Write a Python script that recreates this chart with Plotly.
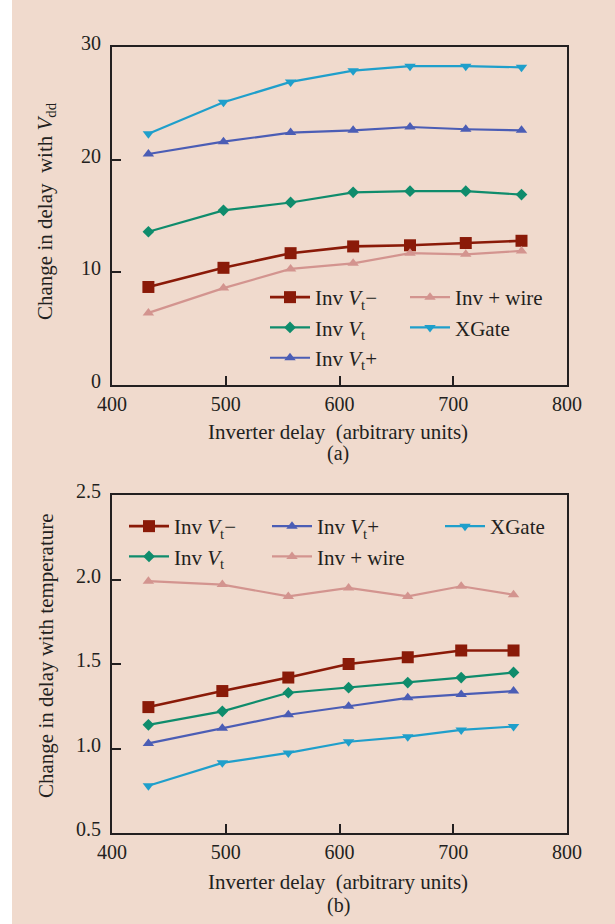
import plotly.graph_objects as go

# ---- data: panel (a) change in delay with Vdd ----
x_a = [432, 498, 557, 612, 662, 711, 760]
a_vt_minus = [8.7, 10.4, 11.7, 12.3, 12.4, 12.6, 12.8]
a_vt = [13.6, 15.5, 16.2, 17.1, 17.2, 17.2, 16.9]
a_vt_plus = [20.5, 21.6, 22.4, 22.6, 22.9, 22.7, 22.6]
a_wire = [6.4, 8.6, 10.3, 10.8, 11.7, 11.6, 11.9]
a_xgate = [22.3, 25.1, 26.9, 27.9, 28.3, 28.3, 28.2]

# ---- data: panel (b) change in delay with temperature ----
x_b = [432, 497, 555, 608, 660, 707, 753]
b_vt_minus = [1.245, 1.34, 1.42, 1.50, 1.54, 1.58, 1.58]
b_vt = [1.14, 1.22, 1.33, 1.36, 1.39, 1.42, 1.45]
b_vt_plus = [1.03, 1.12, 1.20, 1.25, 1.30, 1.32, 1.34]
b_wire = [1.99, 1.97, 1.90, 1.95, 1.90, 1.96, 1.91]
b_xgate = [0.78, 0.915, 0.974, 1.04, 1.07, 1.11, 1.13]

x_ticks = [400, 500, 600, 700, 800]
a_ticks = [0, 10, 20, 30]
b_ticks = [0.5, 1.0, 1.5, 2.0, 2.5]
b_ticktext = ["0.5", "1.0", "1.5", "2.0", "2.5"]

names = {
    "vtm": "Inv <i>V</i><sub>t</sub>\u2212",
    "vt": "Inv <i>V</i><sub>t</sub>",
    "vtp": "Inv <i>V</i><sub>t</sub>+",
    "wire": "Inv + wire",
    "xg": "XGate",
}
colors = {"vtm": "#8a1a08", "vt": "#0f8c6c", "vtp": "#4b5db5", "wire": "#d3948f", "xg": "#1f9fcb"}
symbols = {"vtm": "square", "vt": "diamond", "vtp": "triangle-up", "wire": "triangle-up", "xg": "triangle-down"}
sizes = {"vtm": 12, "vt": 9, "vtp": 10, "wire": 10, "xg": 10}
widths = {"vtm": 2.6, "vt": 2.2, "vtp": 2.2, "wire": 2.2, "xg": 2.2}

BG = "#f0dacd"
INK = "#231f20"
FONT = "Liberation Serif"

L, R, T, B = 112, 567, 47, 91
PW = R - L
PH = 924 - T - B


def px(x):
    return (x - L) / PW


def py(y):
    return 1 - (y - T) / PH


fig = go.Figure()


def add(key, x, y, xa, ya, legend):
    fig.add_trace(go.Scatter(
        x=x, y=y, name=names[key], mode="lines+markers",
        line=dict(color=colors[key], width=widths[key]),
        marker=dict(symbol=symbols[key], size=sizes[key], color=colors[key]),
        xaxis=xa, yaxis=ya, legend=legend,
    ))


# panel (a): column 1 -> legend, column 2 -> legend2
add("vtm", x_a, a_vt_minus, "x", "y", "legend")
add("vt", x_a, a_vt, "x", "y", "legend")
add("vtp", x_a, a_vt_plus, "x", "y", "legend")
add("wire", x_a, a_wire, "x", "y", "legend2")
add("xg", x_a, a_xgate, "x", "y", "legend2")

# panel (b): columns -> legend3, legend4, legend5
add("vtm", x_b, b_vt_minus, "x2", "y2", "legend3")
add("vt", x_b, b_vt, "x2", "y2", "legend3")
add("vtp", x_b, b_vt_plus, "x2", "y2", "legend4")
add("wire", x_b, b_wire, "x2", "y2", "legend4")
add("xg", x_b, b_xgate, "x2", "y2", "legend5")

tickfont = dict(family=FONT, size=20, color=INK)
axis_common = dict(
    showline=True, linecolor=INK, linewidth=2, mirror=True,
    ticks="inside", ticklen=9, tickwidth=2, tickcolor=INK,
    showgrid=False, zeroline=False, tickfont=tickfont,
)
xcommon = dict(axis_common, range=[400, 800], tickvals=x_ticks, ticklabelstandoff=0)
ycommon = dict(axis_common, ticklabelstandoff=5, ticklabelshift=-4)


def legend_at(x, y):
    return dict(
        x=px(x), y=py(y), xanchor="left", yanchor="top", orientation="v",
        bgcolor="rgba(0,0,0,0)", borderwidth=0,
        font=dict(family=FONT, size=21, color=INK),
        tracegroupgap=0, itemwidth=40,
    )


def ann(text, x, y, size=20, angle=0):
    return dict(text=text, xref="paper", yref="paper", x=px(x), y=py(y),
                xanchor="center", yanchor="middle", showarrow=False, textangle=angle,
                font=dict(family=FONT, size=size, color=INK))


xtitle = "Inverter delay  (arbitrary units)"

fig.update_layout(
    width=615, height=924,
    paper_bgcolor=BG, plot_bgcolor=BG,
    margin=dict(l=L, r=615 - R, t=T, b=B),
    font=dict(family=FONT, size=20, color=INK),
    xaxis=dict(xcommon, domain=[0, 1], anchor="y"),
    yaxis=dict(ycommon, domain=[0.57, 1], anchor="x", range=[0, 30], tickvals=a_ticks),
    xaxis2=dict(xcommon, domain=[0, 1], anchor="y2"),
    yaxis2=dict(ycommon, domain=[0, 0.43], anchor="x2", range=[0.5, 2.5],
                tickvals=b_ticks, ticktext=b_ticktext),
    legend=legend_at(265, 277),
    legend2=legend_at(405, 277),
    legend3=legend_at(124, 506),
    legend4=legend_at(267, 506),
    legend5=legend_at(440, 506),
    showlegend=True,
    annotations=[
        ann(xtitle, 338, 432, 21),
        ann("(a)", 338, 453, 20),
        ann(xtitle, 338, 882, 21),
        ann("(b)", 338, 906, 20),
        ann("Change in delay  with <i>V</i><sub>dd</sub>", 46, 211, 21, -90),
        ann("Change in delay with temperature", 46, 656, 21, -90),
    ],
    shapes=[
        dict(type="rect", xref="paper", yref="paper", x0=-0.3, x1=px(12),
             y0=-0.2, y1=1.2, fillcolor="white", line=dict(width=0), layer="below"),
    ],
)

fig.write_html(
    "out.html",
    config={"displayModeBar": False},
    post_script="document.body.style.margin='0';document.body.style.overflow='hidden';",
)
